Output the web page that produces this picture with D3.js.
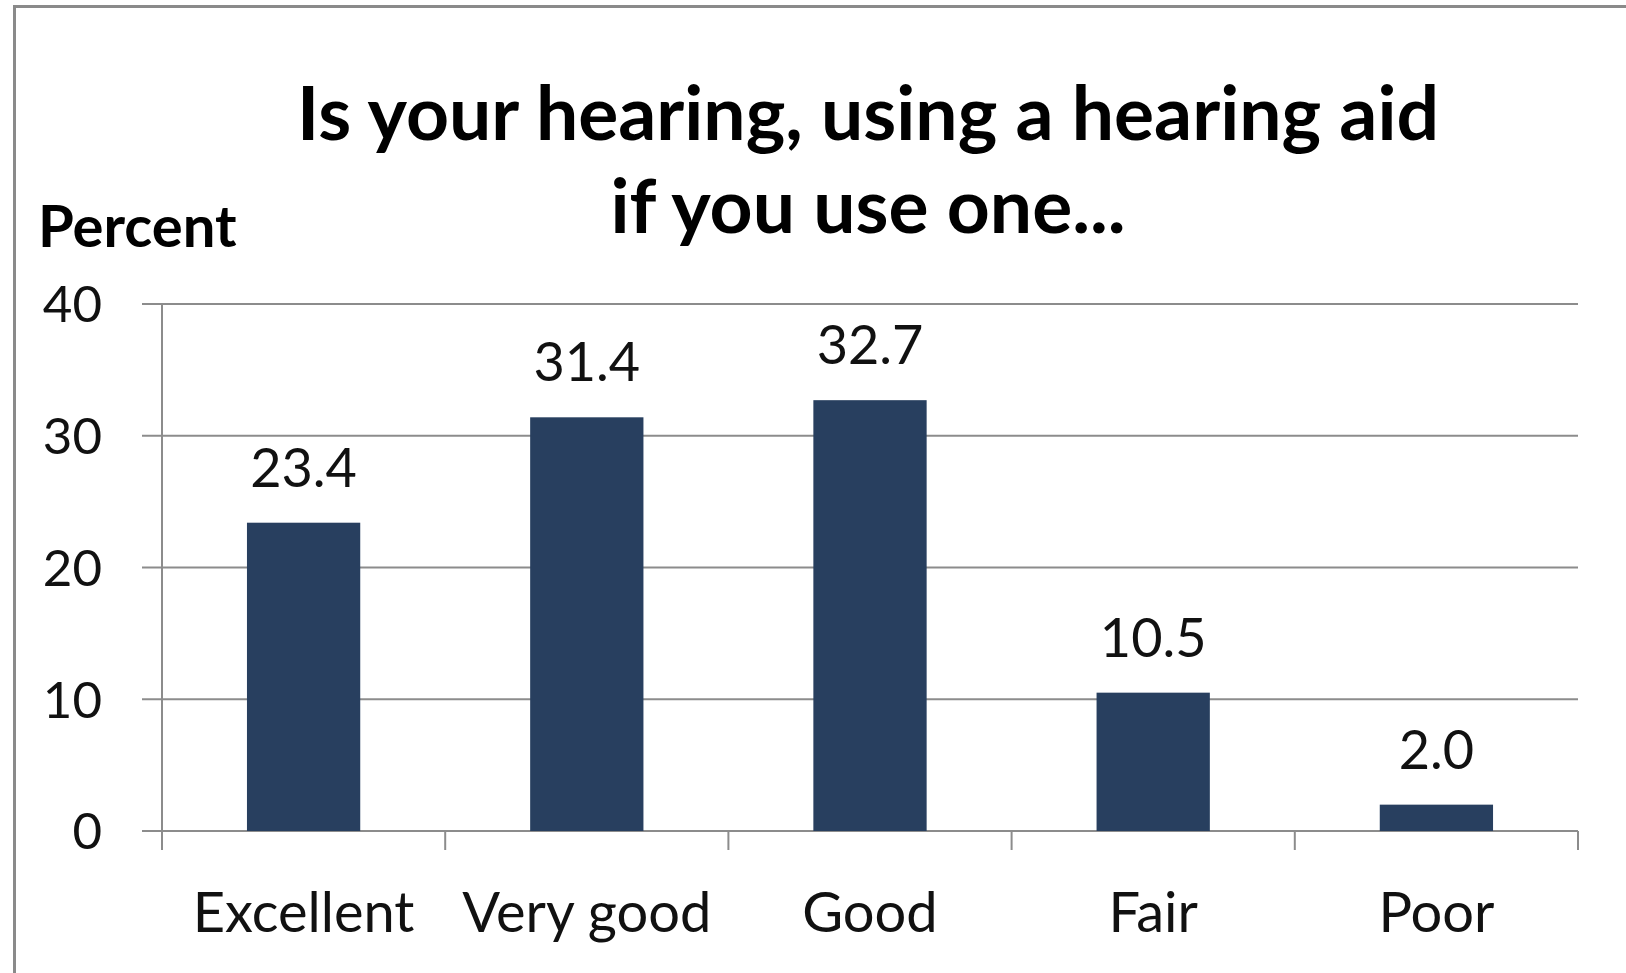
<!DOCTYPE html>
<html>
<head>
<meta charset="utf-8">
<script src="https://cdn.jsdelivr.net/npm/d3@7/dist/d3.min.js"></script>
<style>
  html, body { margin: 0; padding: 0; background: #fff; }
  svg { display: block; font-family: Lato, 'Open Sans', sans-serif; }
</style>
</head>
<body>
<div id="chart"></div>
<script>
'use strict';

/* ── Data ── */
const categories = ['Excellent', 'Very good', 'Good', 'Fair', 'Poor'];
const percents = [23.4, 31.4, 32.7, 10.5, 2.0];
const yTicks = [0, 10, 20, 30, 40];
const titleLines = ['Is your hearing, using a hearing aid', 'if you use one...'];
const yLabel = 'Percent';

/* ── Layout ── */
const W = 1626, H = 973;
const margin = { top: 304, right: 48, bottom: 142, left: 162 };
const innerW = W - margin.left - margin.right;
const innerH = H - margin.top - margin.bottom;
const barColor = '#283f5f';
const lineColor = '#8c8c8c';

const svg = d3.select('#chart').append('svg')
  .attr('width', W)
  .attr('height', H);

// cropped frame: only top and left edges show
svg.append('path')
  .attr('d', `M14.5,${H} V6.5 H${W}`)
  .attr('fill', 'none')
  .attr('stroke', '#8a8a8a')
  .attr('stroke-width', 3);

const g = svg.append('g').attr('transform', `translate(${margin.left},${margin.top})`);

const x = d3.scaleBand().domain(categories).range([0, innerW]).paddingInner(0.6).paddingOuter(0.3);
const y = d3.scaleLinear().domain([0, 40]).range([innerH, 0]);

/* ── Gridlines ── */
g.append('g')
  .selectAll('line')
  .data(yTicks)
  .join('line')
  .attr('x1', -20).attr('x2', innerW)
  .attr('y1', d => y(d)).attr('y2', d => y(d))
  .attr('stroke', lineColor)
  .attr('stroke-width', 2);

/* ── Y axis line + labels ── */
g.append('line')
  .attr('x1', 0).attr('x2', 0)
  .attr('y1', 0).attr('y2', innerH)
  .attr('stroke', lineColor)
  .attr('stroke-width', 2);

g.append('g')
  .selectAll('text')
  .data(yTicks)
  .join('text')
  .attr('x', -60)
  .attr('y', d => y(d))
  .attr('dy', '0.36em')
  .attr('text-anchor', 'end')
  .style('font-size', '51px')
  .style('fill', '#111')
  .text(d => d);

/* ── X axis ── */
const xAxis = g.append('g').attr('transform', `translate(0,${innerH})`);
xAxis.selectAll('line')
  .data(d3.range(categories.length + 1))
  .join('line')
  .attr('x1', i => i * innerW / categories.length)
  .attr('x2', i => i * innerW / categories.length)
  .attr('y1', 0).attr('y2', 19)
  .attr('stroke', lineColor)
  .attr('stroke-width', 2);

xAxis.selectAll('text')
  .data(categories)
  .join('text')
  .attr('x', d => x(d) + x.bandwidth() / 2)
  .attr('y', 101)
  .attr('text-anchor', 'middle')
  .style('font-size', '56px')
  .style('fill', '#111')
  .text(d => d);

/* ── Bars ── */
const data = categories.map((c, i) => ({ cat: c, v: percents[i] }));
g.append('g')
  .selectAll('rect')
  .data(data)
  .join('rect')
  .attr('x', d => x(d.cat))
  .attr('width', x.bandwidth())
  .attr('y', d => y(d.v))
  .attr('height', d => innerH - y(d.v))
  .attr('fill', barColor);

g.append('g')
  .selectAll('text')
  .data(data)
  .join('text')
  .attr('x', d => x(d.cat) + x.bandwidth() / 2)
  .attr('y', d => y(d.v) - 36)
  .attr('text-anchor', 'middle')
  .style('font-size', '54px')
  .style('fill', '#111')
  .text(d => d3.format('.1f')(d.v));

/* ── Title + y label ── */
svg.append('g')
  .selectAll('text')
  .data(titleLines)
  .join('text')
  .attr('x', 868)
  .attr('y', (d, i) => 140 + i * 93)
  .attr('text-anchor', 'middle')
  .style('font-size', '75px')
  .style('font-weight', 700)
  .style('fill', '#000')
  .text(d => d);

svg.append('text')
  .attr('x', 38)
  .attr('y', 247)
  .style('font-size', '58px')
  .style('font-weight', 700)
  .style('fill', '#000')
  .text(yLabel);
</script>
</body>
</html>
